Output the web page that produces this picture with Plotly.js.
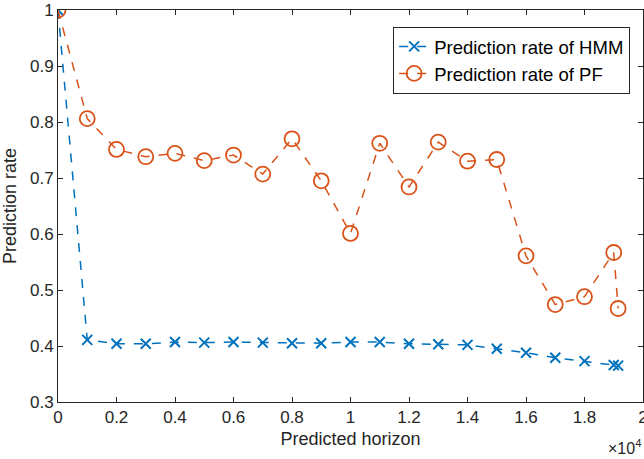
<!DOCTYPE html>
<html>
<head>
<meta charset="utf-8">
<script src="https://cdn.plot.ly/plotly-3.0.1.min.js"></script>
<style>html,body{margin:0;padding:0;background:#fff;}#chart{width:644px;height:459px;}</style>
</head>
<body>
<div id="chart"></div>
<script>
// Predicted horizon (raw units, axis shows ×10^4)
const horizon = [0, 1000, 2000, 3000, 4000, 5000, 6000, 7000, 8000, 9000, 10000,
  11000, 12000, 13000, 14000, 15000, 16000, 17000, 18000, 19000, 19150];
const hmmRate = [1.0, 0.411, 0.404, 0.404, 0.407, 0.406, 0.407, 0.406, 0.405, 0.405, 0.407,
  0.407, 0.404, 0.403, 0.402, 0.395, 0.388, 0.379, 0.373, 0.366, 0.365];
const pfRate = [1.0, 0.806, 0.751, 0.738, 0.744, 0.731, 0.741, 0.707, 0.770, 0.695, 0.601,
  0.762, 0.684, 0.764, 0.730, 0.733, 0.561, 0.474, 0.488, 0.567, 0.467];
const xTickVals = [0, 2000, 4000, 6000, 8000, 10000, 12000, 14000, 16000, 18000, 20000];
const xTickText = ["0", "0.2", "0.4", "0.6", "0.8", "1", "1.2", "1.4", "1.6", "1.8", "2"];
const yTickVals = [0.3, 0.4, 0.5, 0.6, 0.7, 0.8, 0.9, 1.0];
const yTickText = ["0.3", "0.4", "0.5", "0.6", "0.7", "0.8", "0.9", "1"];

const fontFam = "Liberation Sans";
const axisCol = "#262626";

const traces = [
  {
    x: horizon, y: hmmRate, type: "scatter", mode: "lines+markers",
    name: "Prediction rate of HMM",
    line: {color: "#0072BD", width: 1.5, dash: "dash"},
    marker: {symbol: "x-thin-open", size: 10, color: "#0072BD", line: {color: "#0072BD", width: 2}}
  },
  {
    x: horizon, y: pfRate, type: "scatter", mode: "lines+markers",
    name: "Prediction rate of PF",
    line: {color: "#D95319", width: 1.5, dash: "dash"},
    marker: {symbol: "circle-open", size: 15, color: "#D95319", line: {color: "#D95319", width: 1.8}}
  }
];

const axisCommon = {
  showgrid: false, zeroline: false, showline: true, mirror: "ticks",
  linecolor: axisCol, linewidth: 1, ticks: "inside", ticklen: 5, tickwidth: 1,
  tickcolor: axisCol, tickfont: {family: fontFam, size: 17, color: axisCol},
  ticklabeloverflow: "allow"
};

const layout = {
  width: 644, height: 459,
  margin: {l: 58, r: 1, t: 10, b: 57},
  paper_bgcolor: "#fff", plot_bgcolor: "#fff",
  font: {family: fontFam, color: axisCol},
  showlegend: true,
  xaxis: Object.assign({}, axisCommon, {
    range: [0, 20000], tickmode: "array", tickvals: xTickVals, ticktext: xTickText,
    title: {text: "Predicted horizon", font: {family: fontFam, size: 18, color: axisCol}, standoff: 5}
  }),
  yaxis: Object.assign({}, axisCommon, {
    range: [0.3, 1.0], tickmode: "array", tickvals: yTickVals, ticktext: yTickText,
    title: {text: "Prediction rate", font: {family: fontFam, size: 18, color: axisCol}, standoff: 8}
  }),
  legend: {
    x: 0.978, y: 0.957, xanchor: "right", yanchor: "top",
    bgcolor: "#fff", bordercolor: axisCol, borderwidth: 1,
    font: {family: fontFam, size: 18.5, color: "#000"},
    tracegroupgap: 0, itemwidth: 30
  },
  annotations: [{
    xref: "paper", yref: "paper", x: 1.0, y: 0, xanchor: "right", yanchor: "top",
    yshift: -33, text: "×10<sup>4</sup>", showarrow: false,
    font: {family: fontFam, size: 16, color: axisCol}
  }]
};

Plotly.newPlot("chart", traces, layout, {displayModeBar: false, staticPlot: true});
</script>
</body>
</html>
